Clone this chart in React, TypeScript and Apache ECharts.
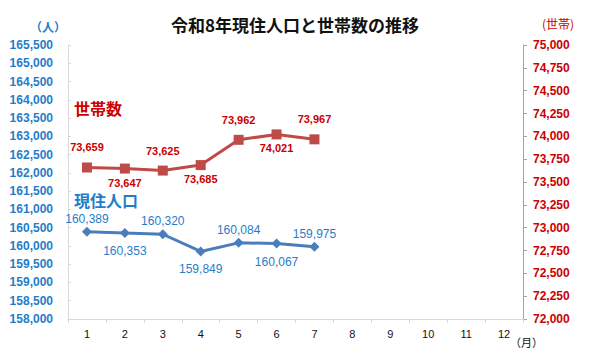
import React, { useEffect, useRef } from "react";
import * as echarts from "echarts";

const months = ["1", "2", "3", "4", "5", "6", "7", "8", "9", "10", "11", "12"];
const population = [160389, 160353, 160320, 159849, 160084, 160067, 159975];
const households = [73659, 73647, 73625, 73685, 73962, 74021, 73967];
const popLabelPos = ["top", "bottom", "top", "bottom", "top", "bottom", "top"];
const hhLabelPos = ["top", "bottom", "top", "bottom", "top", "bottom", "top"];

const FONT = "'Liberation Sans', Arial, 'Noto Sans CJK JP', sans-serif";
const JP = "'Noto Sans CJK JP', sans-serif";
const BLUE_LINE = "#4a7ebb";
const RED_LINE = "#be4b48";
const BLUE_TEXT = "#1f7dc9";
const RED_TEXT = "#cc0000";

const fmt = (v: number) => v.toLocaleString("en-US");

export default function App() {
  const ref = useRef<HTMLDivElement>(null);
  useEffect(() => {
    if (!ref.current) return;
    const chart = echarts.init(ref.current, null, { renderer: "svg" });
    chart.setOption({
      animation: false,
      backgroundColor: "#fff",
      title: {
        text: "令和8年現住人口と世帯数の推移",
        left: 290,
        textAlign: "center",
        top: 11,
        textStyle: { fontFamily: JP, fontSize: 17, fontWeight: "bold", color: "#111" },
      },
      grid: { left: 68, right: 77, top: 45, bottom: 40 },
      xAxis: {
        type: "category",
        data: months,
        boundaryGap: true,
        axisLine: { lineStyle: { color: "#d9d9d9" } },
        axisTick: { show: true, length: 4, lineStyle: { color: "#d9d9d9" } },
        axisLabel: { color: "#111", fontFamily: FONT, fontSize: 11, margin: 9 },
      },
      yAxis: [
        {
          type: "value",
          min: 158000,
          max: 165500,
          interval: 500,
          splitLine: { show: false },
          axisLine: { show: true, lineStyle: { color: "#d9d9d9" } },
          axisTick: { show: true, inside: true, length: 3, lineStyle: { color: "#d9d9d9" } },
          axisLabel: {
            color: BLUE_TEXT,
            fontFamily: FONT,
            fontSize: 12,
            fontWeight: "bold",
            margin: 15,
            formatter: (v: number) => fmt(v),
          },
        },
        {
          type: "value",
          min: 72000,
          max: 75000,
          interval: 250,
          splitLine: { show: false },
          axisLine: { show: true, lineStyle: { color: "#a6a6a6" } },
          axisTick: { show: true, length: 4, lineStyle: { color: "#a6a6a6" } },
          axisLabel: {
            color: RED_TEXT,
            fontFamily: FONT,
            fontSize: 12,
            fontWeight: "bold",
            margin: 10,
            formatter: (v: number) => fmt(v),
          },
        },
      ],
      series: [
        {
          name: "現住人口",
          type: "line",
          yAxisIndex: 0,
          symbol: "diamond",
          symbolSize: 10,
          lineStyle: { color: BLUE_LINE, width: 3 },
          itemStyle: { color: BLUE_LINE },
          data: population.map((v, i) => ({
            value: v,
            label: {
              show: true,
              position: popLabelPos[i],
              distance: popLabelPos[i] === "top" ? 2 : 7,
              color: BLUE_TEXT,
              fontFamily: FONT,
              fontSize: 12,
              formatter: () => fmt(v),
            },
          })),
        },
        {
          name: "世帯数",
          type: "line",
          yAxisIndex: 1,
          symbol: "rect",
          symbolSize: 10,
          lineStyle: { color: RED_LINE, width: 3 },
          itemStyle: { color: RED_LINE },
          data: households.map((v, i) => ({
            value: v,
            label: {
              show: true,
              position: hhLabelPos[i],
              distance: hhLabelPos[i] === "top" ? 9 : 3,
              color: RED_TEXT,
              fontFamily: FONT,
              fontSize: 11,
              lineHeight: 12,
              fontWeight: "bold",
              formatter: () => fmt(v),
            },
          })),
        },
      ],
      graphic: [
        {
          type: "text",
          left: 30,
          top: 20,
          style: { text: "（人）", fill: BLUE_TEXT, font: `bold 12px ${JP}` },
        },
        {
          type: "text",
          left: 542,
          top: 17,
          style: { text: "(世帯)", fill: RED_TEXT, font: `12px ${JP}` },
        },
        {
          type: "text",
          left: 510,
          top: 336,
          style: { text: "（月）", fill: "#111", font: `11px ${JP}` },
        },
        {
          type: "text",
          x: 74,
          y: 108,
          style: {
            text: "世帯数",
            fill: RED_TEXT,
            font: `bold 16px ${JP}`,
            verticalAlign: "middle",
            lineHeight: 16,
          },
        },
        {
          type: "text",
          x: 74,
          y: 200,
          style: {
            text: "現住人口",
            fill: BLUE_TEXT,
            font: `bold 16px ${JP}`,
            verticalAlign: "middle",
            lineHeight: 16,
          },
        },
      ],
    });
    return () => chart.dispose();
  }, []);
  return <div ref={ref} style={{ width: 600, height: 359, position: "absolute", left: 0, top: 0 }} />;
}
